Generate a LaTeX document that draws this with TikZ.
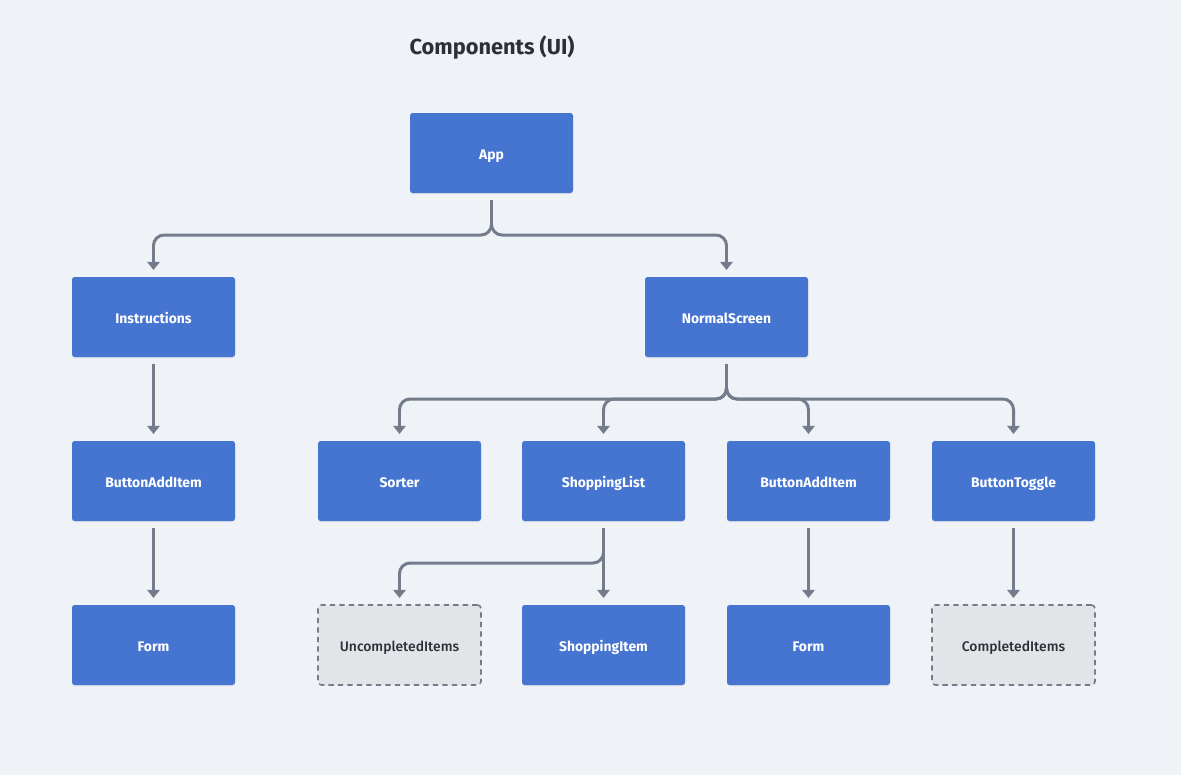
\documentclass[tikz,border=0pt]{standalone}
\usepackage{fontspec}
\setmainfont{Fira Sans}
\newfontfamily\medfont{Fira Sans Medium}
\usepackage{tikz}
\usetikzlibrary{arrows.meta,positioning,shadows}
\definecolor{bgcol}{RGB}{239,242,247}
\definecolor{boxblue}{RGB}{70,117,209}
\definecolor{linegray}{RGB}{116,124,140}
\definecolor{ghostfill}{RGB}{227,228,232}
\definecolor{titlecol}{RGB}{42,47,56}
\tikzset{
    % component box
    comp/.style={
           rectangle,
           rounded corners=1.5pt,
           fill=boxblue,
           text=white,
           font=\fontsize{7.9}{9}\selectfont\bfseries,
           text height=7.4pt,
           text depth=0pt,
           minimum width=163*0.02cm,
           minimum height=80*0.02cm,
           outer sep=7*0.02cm,
           drop shadow={shadow xshift=0pt,shadow yshift=-0.6pt,opacity=0.15},
           },
    % dashed placeholder box
    ghost/.style={
           rectangle,
           rounded corners=2pt,
           fill=ghostfill,
           draw=linegray,
           dashed,
           dash pattern=on 3pt off 2.4pt,
           line width=0.9pt,
           text=titlecol,
           font=\fontsize{7.9}{9}\selectfont\medfont,
           text height=7.4pt,
           text depth=0pt,
           minimum width=163*0.02cm,
           minimum height=80*0.02cm,
           outer sep=7*0.02cm,
           },
    % connector
    conn/.style={
           -{Triangle[length=4.6pt,width=7pt]},
           draw=linegray,
           line width=1.7pt,
           rounded corners=6pt,
           },
}
\begin{document}
\begin{tikzpicture}[x=0.02cm,y=-0.02cm]
	\fill[bgcol] (0,0) rectangle (1181,775);
	\useasboundingbox (0,0) rectangle (1181,775);
	\node (title) at (492,48) [text=titlecol,font=\fontsize{12.4}{14}\selectfont\bfseries] {Components (UI)};
	% rows
	\node (app) at (491.5,153) [comp] {App};
	\node (instr) at (153.5,317) [comp] {Instructions};
	\node (normal) at (726.5,317) [comp] {NormalScreen};
	\node (addl) at (153.5,481) [comp] {ButtonAddItem};
	\node (sorter) at (399.5,481) [comp] {Sorter};
	\node (list) at (603.5,481) [comp] {ShoppingList};
	\node (addr) at (808.5,481) [comp] {ButtonAddItem};
	\node (toggle) at (1013.5,481) [comp] {ButtonToggle};
	\node (forml) at (153.5,645) [comp] {Form};
	\node (uncomp) at (399.5,645) [ghost] {UncompletedItems};
	\node (item) at (603.5,645) [comp] {ShoppingItem};
	\node (formr) at (808.5,645) [comp] {Form};
	\node (comp) at (1013.5,645) [ghost] {CompletedItems};
	% bus levels
	\coordinate (busa) at (0,235);
	\coordinate (busb) at (0,399);
	\coordinate (busc) at (0,563);
	\draw [conn] (app.south) -- (app.south |- busa) -| (instr.north);
	\draw [conn] (app.south) -- (app.south |- busa) -| (normal.north);
	\draw [conn] (instr) -- (addl);
	\draw [conn] (addl) -- (forml);
	\foreach \c in {sorter,list,addr,toggle}
		\draw [conn] (normal.south) -- (normal.south |- busb) -| (\c.north);
	\draw [conn] (list.south) -- (list.south |- busc) -| (uncomp.north);
	\draw [conn] (list) -- (item);
	\draw [conn] (addr) -- (formr);
	\draw [conn] (toggle) -- (comp);
\end{tikzpicture}
\end{document}
